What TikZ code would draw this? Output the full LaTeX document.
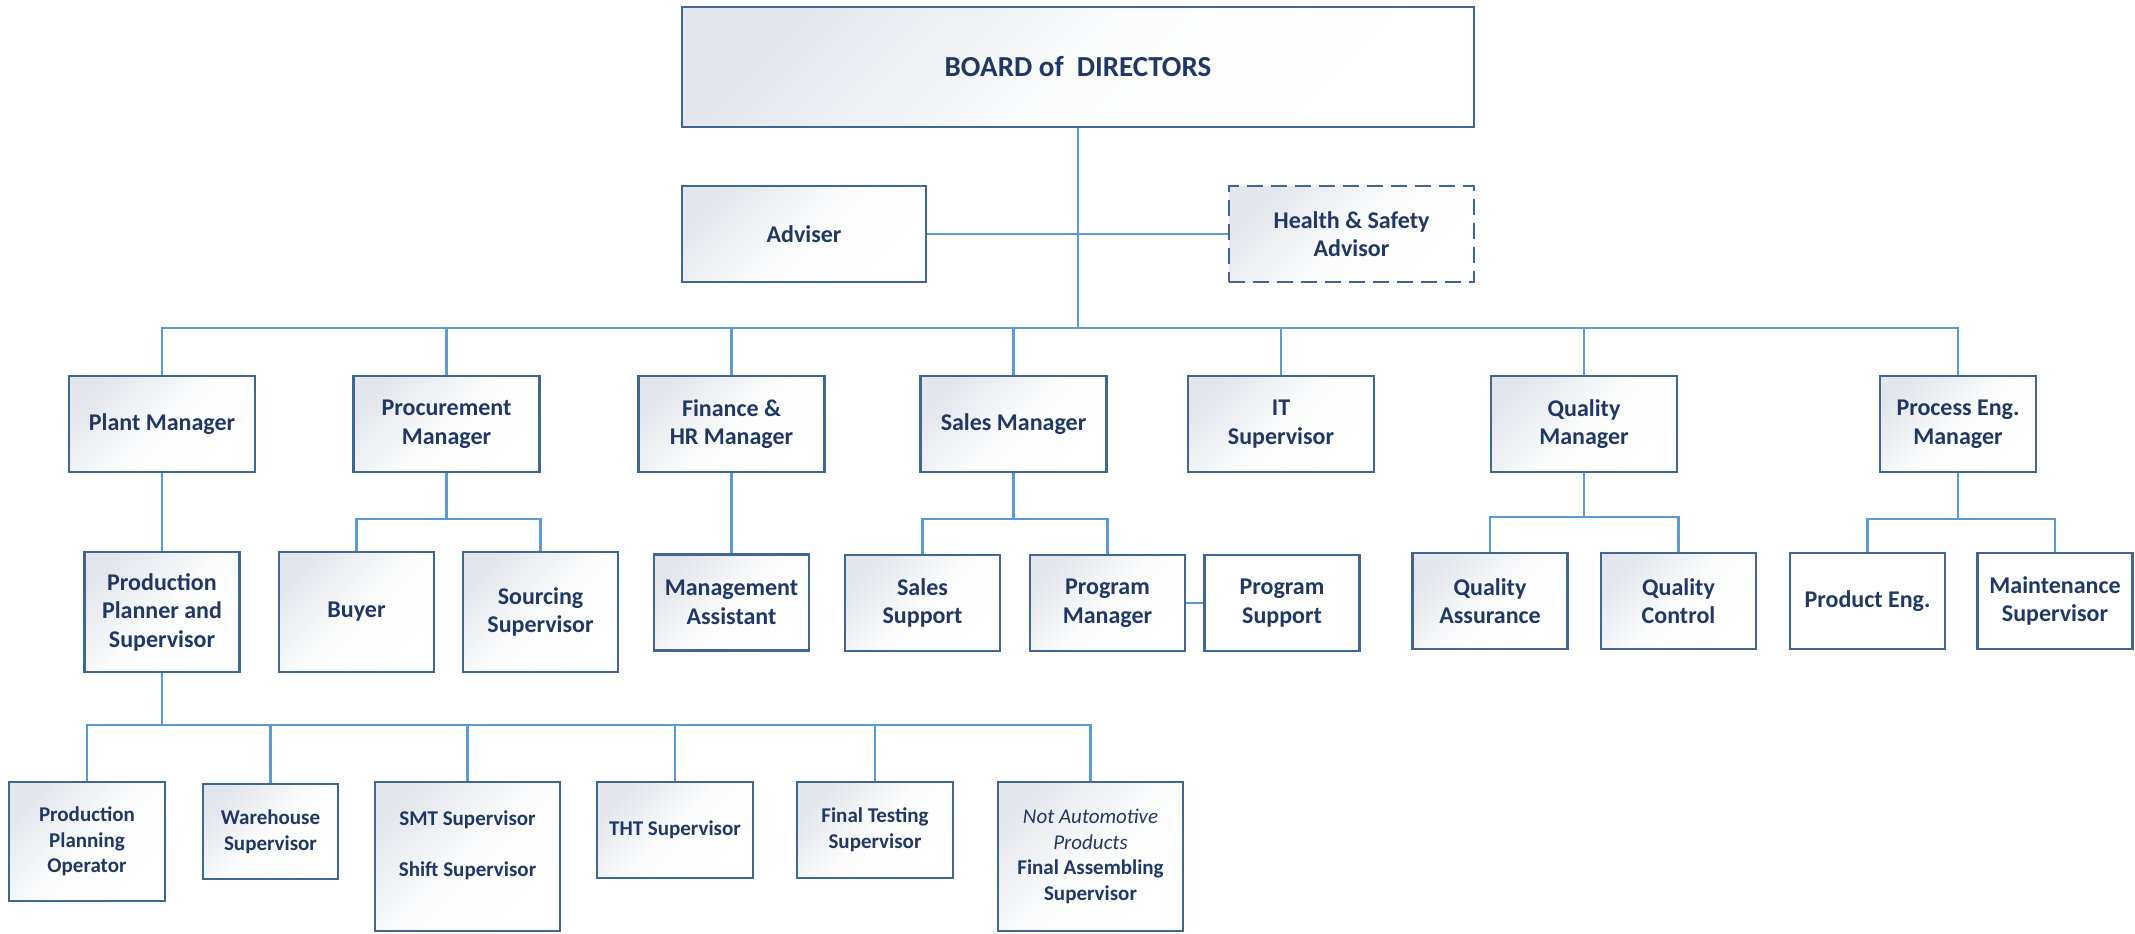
\documentclass[tikz,border=0pt]{standalone}
\usepackage{fontspec}
\setmainfont{Carlito}

\definecolor{navy}{HTML}{1F3864}
\definecolor{frame}{HTML}{41668F}
\definecolor{wire}{HTML}{5B9BD5}
\definecolor{shadegray}{HTML}{E3E6EC}

\begin{document}
\begin{tikzpicture}
		[x=0.5pt, y=-0.5pt,
		 box/.style={rectangle, draw=frame, line width=1.2pt, text=navy, align=center, inner sep=1pt,
		   font=\bfseries\fontsize{12}{14.25}\selectfont},
		 unit/.style={box, top color=shadegray, bottom color=white, middle color=white!88!shadegray, shading angle=45},
		 blank/.style={box, fill=white},
		 mgr/.style={minimum width=93pt, minimum height=48pt},
		 sub/.style={minimum width=77.5pt, minimum height=48pt},
		 leaf/.style={font=\bfseries\fontsize{10.5}{12.85}\selectfont},
		 link/.style={draw=wire, line width=1.4pt}]
		\useasboundingbox (0,0) rectangle (2135,933);

		% bus points
		\coordinate (mainbus) at (1078,328);
		\coordinate (procbus) at (446.5,519);
		\coordinate (salesbus) at (1013.5,519);
		\coordinate (qualbus) at (1584,517);
		\coordinate (engbus) at (1958,519);
		\coordinate (plantbus) at (162,725);

		% top
		\node[unit, minimum width=396pt, minimum height=60pt, font=\bfseries\fontsize{14.5}{17}\selectfont] (board) at (1078,67) {BOARD of~~DIRECTORS};
		\node[unit, minimum width=122pt, minimum height=48pt] (adviser) at (804,234) {Adviser};
		\node[unit, dash pattern=on 8pt off 4pt, minimum width=122.5pt, minimum height=48pt] (safety) at (1351.5,234) {Health \& Safety\\Advisor};

		% managers
		\node[unit, mgr] (plant) at (162,424) {Plant Manager};
		\node[unit, mgr] (procure) at (446.5,424) {Procurement\\Manager};
		\node[unit, mgr] (finance) at (731.5,424) {Finance \&\\HR Manager};
		\node[unit, mgr] (sales) at (1013.5,424) {Sales Manager};
		\node[unit, mgr] (it) at (1281,424) {IT\\Supervisor};
		\node[unit, mgr] (quality) at (1584,424) {Quality\\Manager};
		\node[unit, mgr, minimum width=78pt] (process) at (1958,424) {Process Eng.\\Manager};

		% second row
		\node[unit, sub, minimum height=60pt] (planner) at (162,612) {Production\\Planner and\\Supervisor};
		\node[unit, sub, minimum height=60pt] (buyer) at (356.5,612) {Buyer};
		\node[unit, sub, minimum height=60pt] (sourcing) at (540.5,612) {Sourcing\\Supervisor};
		\node[unit, sub] (assistant) at (731.5,602.5) {Management\\Assistant};
		\node[unit, sub] (salessup) at (922.5,603) {Sales\\Support};
		\node[unit, sub] (program) at (1107.5,603) {Program\\Manager};
		\node[blank, sub] (progsup) at (1282,603) {Program\\Support};
		\node[unit, sub] (assurance) at (1490,601) {Quality\\Assurance};
		\node[unit, sub] (control) at (1678.5,601) {Quality\\Control};
		\node[blank, sub] (prodeng) at (1867.5,601) {Product Eng.};
		\node[blank, sub] (maint) at (2055,601) {Maintenance\\Supervisor};

		% third row
		\node[unit, leaf, minimum width=78pt, minimum height=59.5pt] (operator) at (87,841.5) {Production\\Planning\\Operator};
		\node[unit, leaf, minimum width=67.5pt, minimum height=47.5pt] (warehouse) at (270.5,831.5) {Warehouse\\Supervisor};
		\node[unit, leaf, minimum width=92.5pt, minimum height=74.5pt] (smt) at (467.5,856.5) {SMT Supervisor\\[\baselineskip]Shift Supervisor\\\mbox{}};
		\node[unit, leaf, minimum width=78pt, minimum height=48pt] (tht) at (675,830) {THT Supervisor};
		\node[unit, leaf, minimum width=78pt, minimum height=48pt] (testing) at (875,830) {Final Testing\\Supervisor};
		\node[unit, leaf, minimum width=92.5pt, minimum height=74.5pt] (assembly) at (1090.5,856.5) {{\mdseries\itshape Not Automotive}\\{\mdseries\itshape Products}\\Final Assembling\\Supervisor};

		% connectors
		\draw[link] (board) -- (mainbus);
		\draw[link] (adviser) -- (safety);
		\draw[link] (mainbus) -| (plant);
		\draw[link] (mainbus) -| (procure);
		\draw[link] (mainbus) -| (finance);
		\draw[link] (mainbus) -| (sales);
		\draw[link] (mainbus) -| (it);
		\draw[link] (mainbus) -| (quality);
		\draw[link] (mainbus) -| (process);

		\draw[link] (plant) -- (planner);
		\draw[link] (procure) -- (procbus);
		\draw[link] (procbus) -| (buyer);
		\draw[link] (procbus) -| (sourcing);
		\draw[link] (finance) -- (assistant);
		\draw[link] (sales) -- (salesbus);
		\draw[link] (salesbus) -| (salessup);
		\draw[link] (salesbus) -| (program);
		\draw[link] (program) -- (progsup);
		\draw[link] (quality) -- (qualbus);
		\draw[link] (qualbus) -| (assurance);
		\draw[link] (qualbus) -| (control);
		\draw[link] (process) -- (engbus);
		\draw[link] (engbus) -| (prodeng);
		\draw[link] (engbus) -| (maint);

		\draw[link] (planner) -- (plantbus);
		\draw[link] (plantbus) -| (operator);
		\draw[link] (plantbus) -| (warehouse);
		\draw[link] (plantbus) -| (smt);
		\draw[link] (plantbus) -| (tht);
		\draw[link] (plantbus) -| (testing);
		\draw[link] (plantbus) -| (assembly);
	\end{tikzpicture}
\end{document}
